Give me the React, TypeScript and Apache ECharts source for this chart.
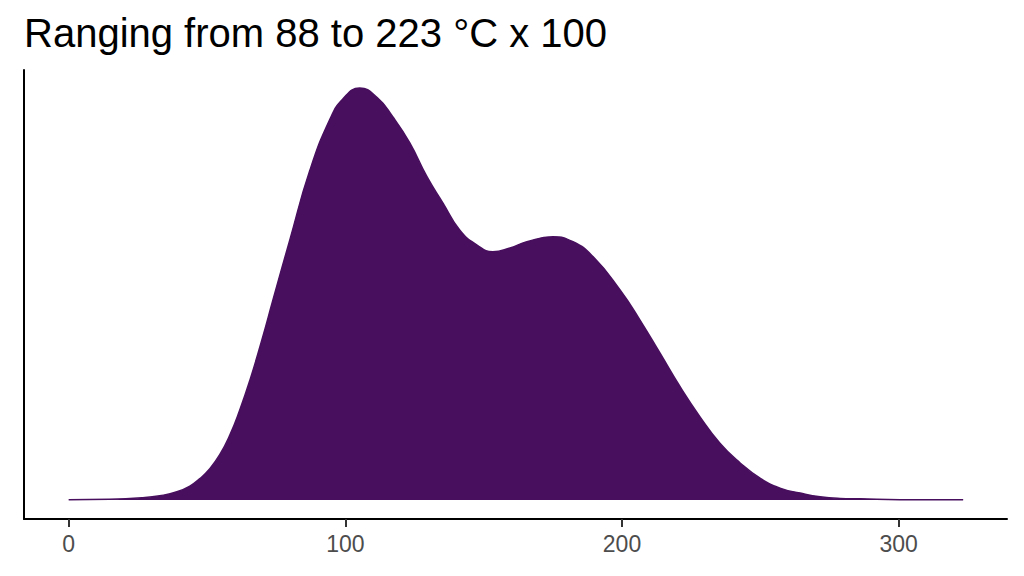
import React, { useRef, useEffect } from "react";
import * as echarts from "echarts";

// density curve (x in °C x 100, y as % of the peak)
const xValues = [
  0, 14.8, 26.8, 32.9, 39.1, 43.8, 47.4, 51.0, 54.6, 58.2, 61.8, 65.5, 69.8,
  73.8, 79.9, 87.2, 94.4, 99.0, 105.2, 111.5, 117.2, 123.3, 129.5, 135.3,
  141.4, 147.6, 153.3, 159.5, 165.6, 175.0, 182.3, 189.5, 199.3, 206.5, 213.7,
  221.0, 228.2, 235.4, 242.7, 249.9, 257.1, 264.4, 271.6, 278.8, 286.1, 300.5,
  323.3,
];
const densityValues = [
  0.05, 0.17, 0.56, 1.04, 2.0, 3.4, 5.2, 7.6, 11.0, 15.7, 21.8, 29.1, 38.8,
  48.5, 63.1, 80.1, 92.4, 97.3, 100, 97.7, 93.0, 86.7, 78.5, 72.1, 65.5, 61.9,
  60.3, 61.2, 62.7, 63.9, 62.7, 59.1, 51.0, 43.7, 35.7, 27.5, 20.2, 13.8, 9.0,
  5.3, 2.9, 1.7, 0.8, 0.4, 0.3, 0.1, 0.05,
];
const tickValues = [0, 100, 200, 300];
const titleText = "Ranging from 88 to 223 °C x 100";

const App = function () {
  const chart = useRef<HTMLDivElement>(null);
  useEffect(() => {
    if (!chart.current) return;
    const myChart = echarts.init(chart.current, null, { renderer: "svg" });
    const option = {
      animation: false,
      title: {
        text: titleText,
        left: 19,
        top: 8,
        textStyle: {
          color: "#000",
          fontFamily: "Liberation Sans",
          fontWeight: "normal",
          fontSize: 40,
        },
      },
      grid: {
        left: 24,
        right: 17,
        top: 70,
        bottom: 57,
        containLabel: false,
      },
      xAxis: {
        type: "value",
        min: -16.15,
        max: 339.15,
        splitLine: { show: false },
        axisLine: {
          onZero: false,
          lineStyle: { color: "#000", width: 2 },
        },
        axisTick: {
          customValues: tickValues,
          length: 8,
          lineStyle: { color: "#333", width: 2 },
        },
        axisLabel: {
          customValues: tickValues,
          color: "#4D4D4D",
          fontFamily: "Liberation Sans",
          fontSize: 23,
          margin: 13,
        },
      },
      yAxis: {
        type: "value",
        min: -4.6,
        max: 104.4,
        splitLine: { show: false },
        axisLine: {
          show: true,
          onZero: false,
          lineStyle: { color: "#000", width: 2 },
        },
        axisTick: { show: false },
        axisLabel: { show: false },
      },
      series: [
        {
          type: "line",
          data: xValues.map((x, i) => [x, densityValues[i]]),
          smooth: 0.5,
          showSymbol: false,
          lineStyle: { color: "#480F5E", width: 1.5 },
          areaStyle: { color: "#480F5E", opacity: 1, origin: 0 },
        },
      ],
    };
    myChart.setOption(option);
    return () => {
      myChart.dispose();
    };
  }, []);
  return <div ref={chart} style={{ width: 1024, height: 576, margin: -8 }}></div>;
};
export default App;
